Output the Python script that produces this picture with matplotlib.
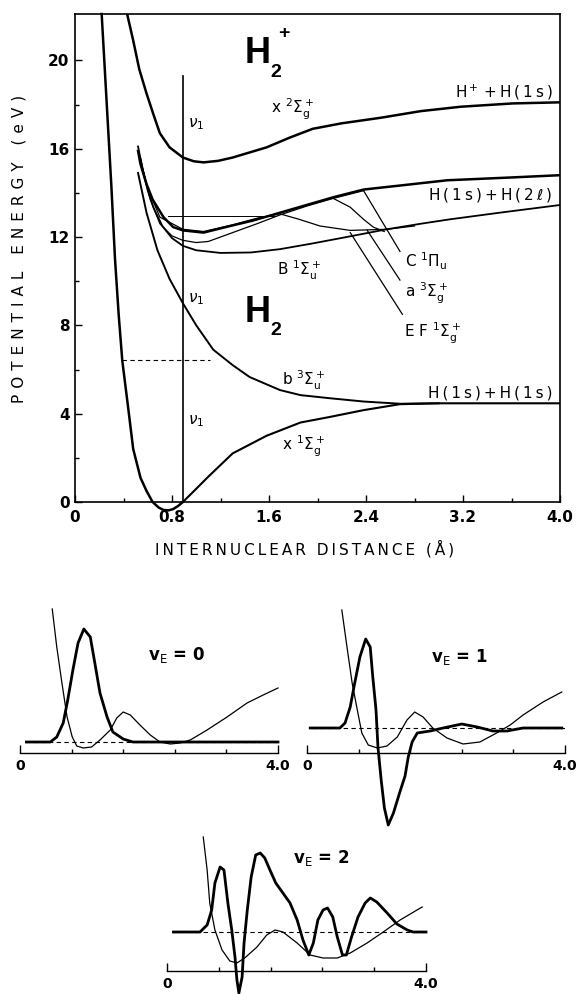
import numpy as np
import matplotlib
matplotlib.use('Agg')
import matplotlib.pyplot as plt

plt.rcParams['font.family'] = ['DejaVu Sans']
plt.rcParams['mathtext.fontset'] = 'dejavusans'

W, H = 576, 994
THIN = '\u2009'


def spaced(s, n=1):
    return (THIN * n).join(s)


# ---- main panel: potential curves (R in Angstrom, energy in eV) ----
# ground state well + X 1Sigma_g+ branch
xwell_r = [0.22, 0.26, 0.30, 0.33, 0.36, 0.39, 0.44, 0.48, 0.54, 0.59, 0.64, 0.69, 0.73, 0.77, 0.81, 0.85, 0.89]
xwell_e = [22.1, 18.2, 14.3, 11.0, 8.5, 6.4, 4.2, 2.4, 1.1, 0.5, 0.0, -0.25, -0.36, -0.38, -0.32, -0.18, 0.0]
xg_r = [0.89, 1.0, 1.1, 1.3, 1.58, 1.86, 2.1, 2.38, 2.68, 3.0, 3.5, 4.0]
xg_e = [0.0, 0.6, 1.15, 2.2, 3.0, 3.6, 3.85, 4.16, 4.43, 4.47, 4.47, 4.47]
# b 3Sigma_u+
b_r = [0.52, 0.59, 0.68, 0.78, 0.89, 1.0, 1.14, 1.3, 1.44, 1.69, 1.86, 2.1, 2.38, 2.68, 3.0]
b_e = [14.9, 13.1, 11.4, 10.1, 9.0, 8.0, 6.9, 6.2, 5.66, 5.07, 4.84, 4.7, 4.55, 4.45, 4.47]
# H2+ X 2Sigma_g+
ion_r = [0.43, 0.48, 0.53, 0.59, 0.65, 0.70, 0.78, 0.89, 0.98, 1.06, 1.18, 1.30, 1.58, 1.77, 1.96, 2.2,
         2.52, 2.85, 3.18, 3.61, 4.0]
ion_e = [22.1, 20.9, 19.6, 18.5, 17.5, 16.7, 16.06, 15.6, 15.43, 15.38, 15.45, 15.6, 16.06, 16.5, 16.9, 17.15,
         17.4, 17.7, 17.9, 18.05, 18.1]
# C 1Pi_u
c_r = [0.52, 0.54, 0.59, 0.64, 0.73, 0.81, 0.89, 1.06, 1.28, 1.47, 1.69, 1.91, 2.13, 2.38, 2.71, 3.07, 3.61, 4.0]
c_e = [15.9, 15.3, 14.4, 13.7, 12.9, 12.45, 12.3, 12.2, 12.5, 12.75, 13.1, 13.45, 13.8, 14.15, 14.35, 14.57, 14.7, 14.8]
# a 3Sigma_g+
a_r = [0.54, 0.58, 0.62, 0.70, 0.80, 0.89, 1.0, 1.1, 1.3, 1.5, 1.69, 1.91, 2.13, 2.38]
a_e = [15.6, 14.6, 13.7, 12.6, 12.05, 11.85, 11.75, 11.8, 12.2, 12.6, 13.0, 13.4, 13.75, 14.1]
# EF 1Sigma_g+
ef_r = [0.53, 0.60, 0.70, 0.89, 1.06, 1.3, 1.5, 1.69, 1.85, 2.02, 2.27, 2.57, 2.8]
ef_e = [15.7, 14.2, 12.9, 12.35, 12.25, 12.55, 12.85, 13.05, 12.8, 12.5, 12.3, 12.35, 12.5]
# branch falling from the n=2 bundle
fall_r = [2.13, 2.27, 2.38, 2.46, 2.55]
fall_e = [13.75, 13.35, 12.8, 12.45, 12.25]
# B 1Sigma_u+
bu_r = [0.52, 0.56, 0.60, 0.65, 0.72, 0.80, 0.89, 1.0, 1.2, 1.45, 1.69, 1.95, 2.24, 2.57, 2.85, 3.09, 3.5, 4.0]
bu_e = [16.1, 15.0, 14.1, 13.3, 12.5, 11.95, 11.6, 11.4, 11.28, 11.3, 11.45, 11.7, 12.0, 12.35, 12.6, 12.8, 13.1, 13.45]

vline_r = [0.89, 0.89]
vline_e = [0.0, 19.3]
level_r = [0.77, 1.66]
level_e = [12.94, 12.94]
dash_r = [0.39, 1.11]
dash_e = [6.45, 6.45]
lead_c_r, lead_c_e = [2.38, 2.68], [14.1, 11.35]
lead_a_r, lead_a_e = [2.41, 2.68], [12.3, 10.05]
lead_ef_r, lead_ef_e = [2.27, 2.70], [12.2, 8.5]

x_ticks = [0, 0.8, 1.6, 2.4, 3.2, 4.0]
x_ticklabels = ['0', '0.8', '1.6', '2.4', '3.2', '4.0']
y_ticks = [0, 4, 8, 12, 16, 20]

# ---- lower panels: EF potential (thin) and wavefunction (bold), arbitrary units ----
pot0_r = [0.50, 0.57, 0.65, 0.73, 0.81, 0.88, 0.98, 1.11, 1.24, 1.40, 1.50, 1.60, 1.71, 1.86, 2.02, 2.17, 2.33,
          2.48, 2.64, 2.90, 3.21, 3.52, 3.77, 4.00]
pot0_v = [13.3, 9.5, 5.9, 2.5, 0.5, -0.4, -0.6, -0.5, 0.2, 1.2, 2.4, 3.0, 2.7, 1.7, 0.7, 0.0, -0.2,
          -0.1, 0.2, 1.2, 2.5, 3.9, 4.7, 5.4]
psi0_r = [0.10, 0.47, 0.57, 0.67, 0.74, 0.82, 0.90, 0.99, 1.09, 1.16, 1.24, 1.35, 1.44, 1.60, 1.75, 4.00]
psi0_v = [0, 0, 0.5, 1.9, 4.2, 7.2, 9.9, 11.3, 10.5, 7.9, 4.9, 2.5, 1.0, 0.3, 0, 0]

pot1_r = [0.54, 0.62, 0.70, 0.78, 0.85, 0.95, 1.09, 1.24, 1.40, 1.55, 1.67, 1.80, 1.95, 2.17, 2.42, 2.68, 2.94,
          3.15, 3.35, 3.66, 3.95]
pot1_v = [11.8, 8.1, 4.5, 1.8, -0.5, -1.7, -2.0, -1.8, -0.9, 0.8, 1.6, 1.1, 0, -1.0, -1.6, -1.4, -0.5,
          0.3, 1.3, 2.6, 3.6]
psi1_r = [0.05, 0.51, 0.59, 0.67, 0.74, 0.82, 0.91, 0.98, 1.02, 1.07, 1.10, 1.15, 1.20, 1.26, 1.34, 1.44, 1.52,
          1.57, 1.63, 1.71, 1.91, 2.11, 2.40, 2.64, 2.88, 3.10, 3.35, 3.95]
psi1_v = [0, 0, 0.5, 2.1, 4.5, 7.1, 8.9, 8.1, 5.1, 1.8, -1.9, -5.2, -8.0, -9.7, -8.5, -6.4, -4.8,
          -2.9, -1.4, -0.5, -0.3, 0, 0.4, 0.1, -0.3, -0.3, 0, 0]

pot2_r = [0.56, 0.62, 0.66, 0.74, 0.85, 0.97, 1.08, 1.20, 1.39, 1.54, 1.67, 1.79, 2.01, 2.21, 2.41, 2.63, 2.83,
          3.09, 3.34, 3.60, 3.94]
pot2_v = [9.5, 6.2, 2.9, 0.2, -1.8, -2.9, -3.1, -2.6, -1.5, -0.3, 0.2, 0, -1.1, -2.3, -2.6, -2.6, -2.1,
          -1.1, 0, 1.2, 2.5]
psi2_r = [0.10, 0.51, 0.62, 0.69, 0.74, 0.82, 0.88, 0.94, 1.00, 1.05, 1.08, 1.11, 1.16, 1.19, 1.24, 1.30, 1.37,
          1.44, 1.51, 1.59, 1.68, 1.79, 1.90, 2.01, 2.10, 2.19, 2.26, 2.33, 2.41, 2.48, 2.56, 2.63, 2.71, 2.77,
          2.85, 2.95, 3.06, 3.14, 3.24, 3.40, 3.55, 3.71, 3.80, 4.00]
psi2_v = [0, 0, 0.7, 2.2, 4.9, 6.5, 6.2, 2.9, 0.2, -2.5, -4.8, -6.1, -4.5, -1.1, 2.2, 5.5, 7.7,
          7.9, 7.4, 6.2, 4.9, 3.9, 2.9, 1.2, -0.8, -2.3, -1.1, 1.2, 2.2, 2.4, 1.5, -0.5, -2.3, -2.3,
          -0.5, 1.5, 2.9, 3.4, 3.0, 1.9, 0.8, 0.2, 0, 0]

panel_minor = [0.8, 1.6, 2.4, 3.2]

fig = plt.figure(figsize=(W / 100, H / 100), dpi=100)
ax = fig.add_axes([75 / W, 1 - 502 / H, 485 / W, 488 / H])
ax.set_xlim(0, 4.0)
ax.set_ylim(0, 22.1)

k = 'black'
ax.plot(xwell_r, xwell_e, color=k, lw=1.8, clip_on=False)
ax.plot(xg_r, xg_e, color=k, lw=1.5)
ax.plot(b_r, b_e, color=k, lw=1.4)
ax.plot(ion_r, ion_e, color=k, lw=1.8)
ax.plot(bu_r, bu_e, color=k, lw=1.3)
ax.plot(a_r, a_e, color=k, lw=0.9)
ax.plot(ef_r, ef_e, color=k, lw=0.9)
ax.plot(fall_r, fall_e, color=k, lw=0.9)
ax.plot(c_r, c_e, color=k, lw=1.8)
ax.plot(vline_r, vline_e, color=k, lw=1.2)
ax.plot(level_r, level_e, color=k, lw=0.7)
ax.plot(dash_r, dash_e, color=k, lw=0.8, ls=(0, (4, 3)))
for lr, le in [(lead_c_r, lead_c_e), (lead_a_r, lead_a_e), (lead_ef_r, lead_ef_e)]:
    ax.plot(lr, le, color=k, lw=0.9)

ax.set_xticks(x_ticks)
ax.set_xticklabels(x_ticklabels)
ax.set_yticks(y_ticks)
ax.set_xticks(np.arange(0.4, 4.0, 0.8), minor=True)
ax.set_yticks(np.arange(2, 22, 4), minor=True)
ax.tick_params(direction='in', length=5, width=1, labelsize=11, pad=6)
ax.tick_params(axis='y', pad=4)
ax.tick_params(which='minor', direction='in', length=3, width=1)
for lab in ax.get_xticklabels() + ax.get_yticklabels():
    lab.set_fontweight('bold')
for s in ax.spines.values():
    s.set_linewidth(1.2)

ax.set_ylabel(spaced('POTENTIAL ENERGY (eV)', 2), fontsize=11)
ax.yaxis.set_label_coords(-0.099, 0.518)
ax.set_xlabel(spaced('INTERNUCLEAR DISTANCE (Å)'), fontsize=11)
ax.xaxis.set_label_coords(0.474, -0.078)

big = dict(family=['Liberation Sans', 'DejaVu Sans'], fontweight='bold', color=k)
ax.text(1.40, 19.86, 'H', fontsize=26, ha='left', va='baseline', **big)
ax.text(1.61, 19.23, '2', fontsize=14, ha='left', va='baseline', **big)
ax.text(1.72, 21.2, '+', fontsize=14, ha='center', va='center', **big)
ax.text(1.40, 8.14, 'H', fontsize=26, ha='left', va='baseline', **big)
ax.text(1.61, 7.56, '2', fontsize=14, ha='left', va='baseline', **big)

fs = 11
ax.text(1.62, 17.6, r'x $^2\Sigma_\mathrm{g}^+$', fontsize=fs, va='baseline')
ax.text(3.94, 18.33, 'H$^+$' + THIN + spaced('+H(1s)'), fontsize=fs, ha='right', va='baseline')
ax.text(3.94, 13.7, spaced('H(1s)+H(2') + THIN + r'$\ell$' + THIN + ')', fontsize=fs, ha='right', va='baseline')
ax.text(3.94, 4.75, spaced('H(1s)+H(1s)'), fontsize=fs, ha='right', va='baseline')
ax.text(1.67, 10.27, r'B $^1\Sigma_\mathrm{u}^+$', fontsize=fs, va='baseline')
ax.text(2.72, 10.63, r'C $^1\Pi_\mathrm{u}$', fontsize=fs, va='baseline')
ax.text(2.72, 9.28, r'a $^3\Sigma_\mathrm{g}^+$', fontsize=fs, va='baseline')
ax.text(2.71, 7.47, r'E F $^1\Sigma_\mathrm{g}^+$', fontsize=fs, va='baseline')
ax.text(1.71, 5.29, r'b $^3\Sigma_\mathrm{u}^+$', fontsize=fs, va='baseline')
ax.text(1.71, 2.35, r'x $^1\Sigma_\mathrm{g}^+$', fontsize=fs, va='baseline')
for ye in (17.1, 9.2, 3.65):
    ax.text(0.93, ye, r'$\nu_1$', fontsize=fs, va='center')


def panel(left, right, zero, base, top, bottom):
    pax = fig.add_axes([left / W, 1 - bottom / H, (right - left) / W, (bottom - top) / H])
    pax.patch.set_alpha(0)
    pax.set_xlim(0, 4.0)
    pax.set_ylim((zero - bottom) / 10, (zero - top) / 10)
    for s in ('left', 'right', 'top'):
        pax.spines[s].set_visible(False)
    pax.spines['bottom'].set_position(('data', (zero - base) / 10))
    pax.spines['bottom'].set_linewidth(1.0)
    pax.set_yticks([])
    pax.set_xticks([0, 4.0])
    pax.set_xticklabels(['0', '4.0'], fontweight='bold')
    pax.set_xticks(panel_minor, minor=True)
    pax.tick_params(direction='in', length=6, width=1, labelsize=10, pad=4)
    pax.tick_params(which='minor', direction='in', length=3, width=1)
    pax.axhline(0, xmin=0.02, xmax=1.0, color=k, lw=0.8, ls=(0, (4, 3)))
    return pax


p0 = panel(20, 278, 742, 753, 600, 770)
p0.plot(pot0_r, pot0_v, color=k, lw=0.9, clip_on=False)
p0.plot(psi0_r, psi0_v, color=k, lw=2.0, clip_on=False)
p0.text(2.43, 8.7, r'v$_\mathrm{E}$ = 0', fontsize=12, fontweight='bold', ha='center', va='center')

p1 = panel(307, 565, 728, 753, 600, 830)
p1.plot(pot1_r, pot1_v, color=k, lw=0.9, clip_on=False)
p1.plot(psi1_r, psi1_v, color=k, lw=2.0, clip_on=False)
p1.text(2.37, 7.1, r'v$_\mathrm{E}$ = 1', fontsize=12, fontweight='bold', ha='center', va='center')

p2 = panel(167, 426, 932, 971, 820, 990)
p2.plot(pot2_r, pot2_v, color=k, lw=0.9, clip_on=False)
p2.plot(psi2_r, psi2_v, color=k, lw=2.0, clip_on=False)
p2.text(2.38, 7.4, r'v$_\mathrm{E}$ = 2', fontsize=12, fontweight='bold', ha='center', va='center')

fig.savefig('out.png', dpi=100)
